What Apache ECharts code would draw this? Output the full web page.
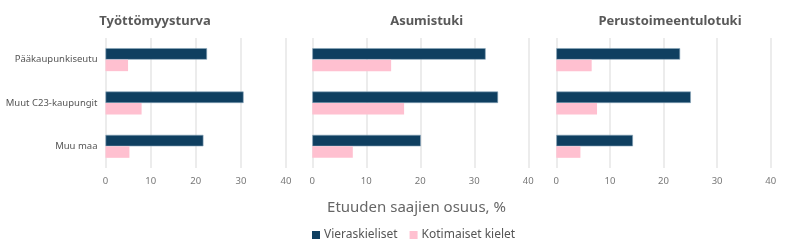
<!DOCTYPE html>
<html>
<head>
<meta charset="utf-8">
<script src="https://cdn.jsdelivr.net/npm/echarts@6/dist/echarts.min.js"></script>
<style>html,body{margin:0;padding:0;background:#fff}#c{width:790px;height:251px}</style>
</head>
<body>
<div id="c"></div>
<script>
const categories = ['Pääkaupunkiseutu', 'Muut C23-kaupungit', 'Muu maa'];
const panelTitles = ['Työttömyysturva', 'Asumistuki', 'Perustoimeentulotuki'];
const seriesNames = ['Vieraskieliset', 'Kotimaiset kielet'];
const tyottomyysVieras = [22.5, 30.6, 21.7];
const tyottomyysKotim = [5.0, 8.0, 5.3];
const asumisVieras = [32.1, 34.4, 20.1];
const asumisKotim = [14.6, 17.0, 7.5];
const toimeentuloVieras = [23.1, 25.1, 14.3];
const toimeentuloKotim = [6.6, 7.6, 4.5];
const xTicks = [0, 10, 20, 30, 40];
const axisTitle = 'Etuuden saajien osuus, %';

const FONT = 'Noto Sans';
const dark = '#0f3f60', pink = '#ffc0d0';
const grids = [
  {left: 105.5, width: 180.5, top: 38, height: 130},
  {left: 312.3, width: 216, top: 38, height: 130},
  {left: 556.3, width: 214.4, top: 38, height: 130}
];
const titleCenters = [150, 421.7, 665];
const data = [[tyottomyysVieras, tyottomyysKotim],[asumisVieras, asumisKotim],[toimeentuloVieras, toimeentuloKotim]];

const option = {
  animation: false,
  textStyle: {fontFamily: FONT},
  title: panelTitles.map((t, i) => ({
    text: t, left: titleCenters[i], top: 10, textAlign: 'center',
    textStyle: {fontFamily: FONT, fontWeight: 'bold', fontSize: 13, color: '#595959'}
  })).concat([{
    text: axisTitle, left: 411.5, top: 195, textAlign: 'center',
    textStyle: {fontFamily: FONT, fontWeight: 'normal', fontSize: 15, color: '#666'}
  }]),
  legend: {
    data: seriesNames, left: 307, top: 224, itemWidth: 8, itemHeight: 8, itemGap: 12,
    icon: 'rect', itemStyle: {borderWidth: 0},
    textStyle: {fontFamily: FONT, fontSize: 12, color: '#555', padding: [0, 0, 0, -1]}
  },
  grid: grids,
  xAxis: grids.map((g, i) => ({
    gridIndex: i, type: 'value', min: xTicks[0], max: xTicks[xTicks.length-1], interval: 10,
    axisLine: {show: false}, axisTick: {show: false},
    splitLine: {lineStyle: {color: '#e6e6e6', width: 1.5}},
    axisLabel: {fontFamily: FONT, fontSize: 9.5, color: '#777', margin: 8}
  })),
  yAxis: grids.map((g, i) => ({
    gridIndex: i, type: 'category', data: categories, inverse: true,
    axisLine: {show: false}, axisTick: {show: false},
    axisLabel: {show: i === 0, fontFamily: FONT, fontSize: 9.5, color: '#555', margin: 8}
  })),
  series: []
};
data.forEach((pair, i) => {
  pair.forEach((vals, j) => {
    option.series.push({
      type: 'bar', name: seriesNames[j], xAxisIndex: i, yAxisIndex: i, data: vals,
      barGap: '0%', barCategoryGap: '47%',
      itemStyle: j === 0 ? {color: dark, borderColor: '#8aa6ba', borderWidth: 0.6} : {color: pink}
    });
  });
});
echarts.init(document.getElementById('c'), null, {renderer: 'canvas'}).setOption(option);
</script>
</body>
</html>
